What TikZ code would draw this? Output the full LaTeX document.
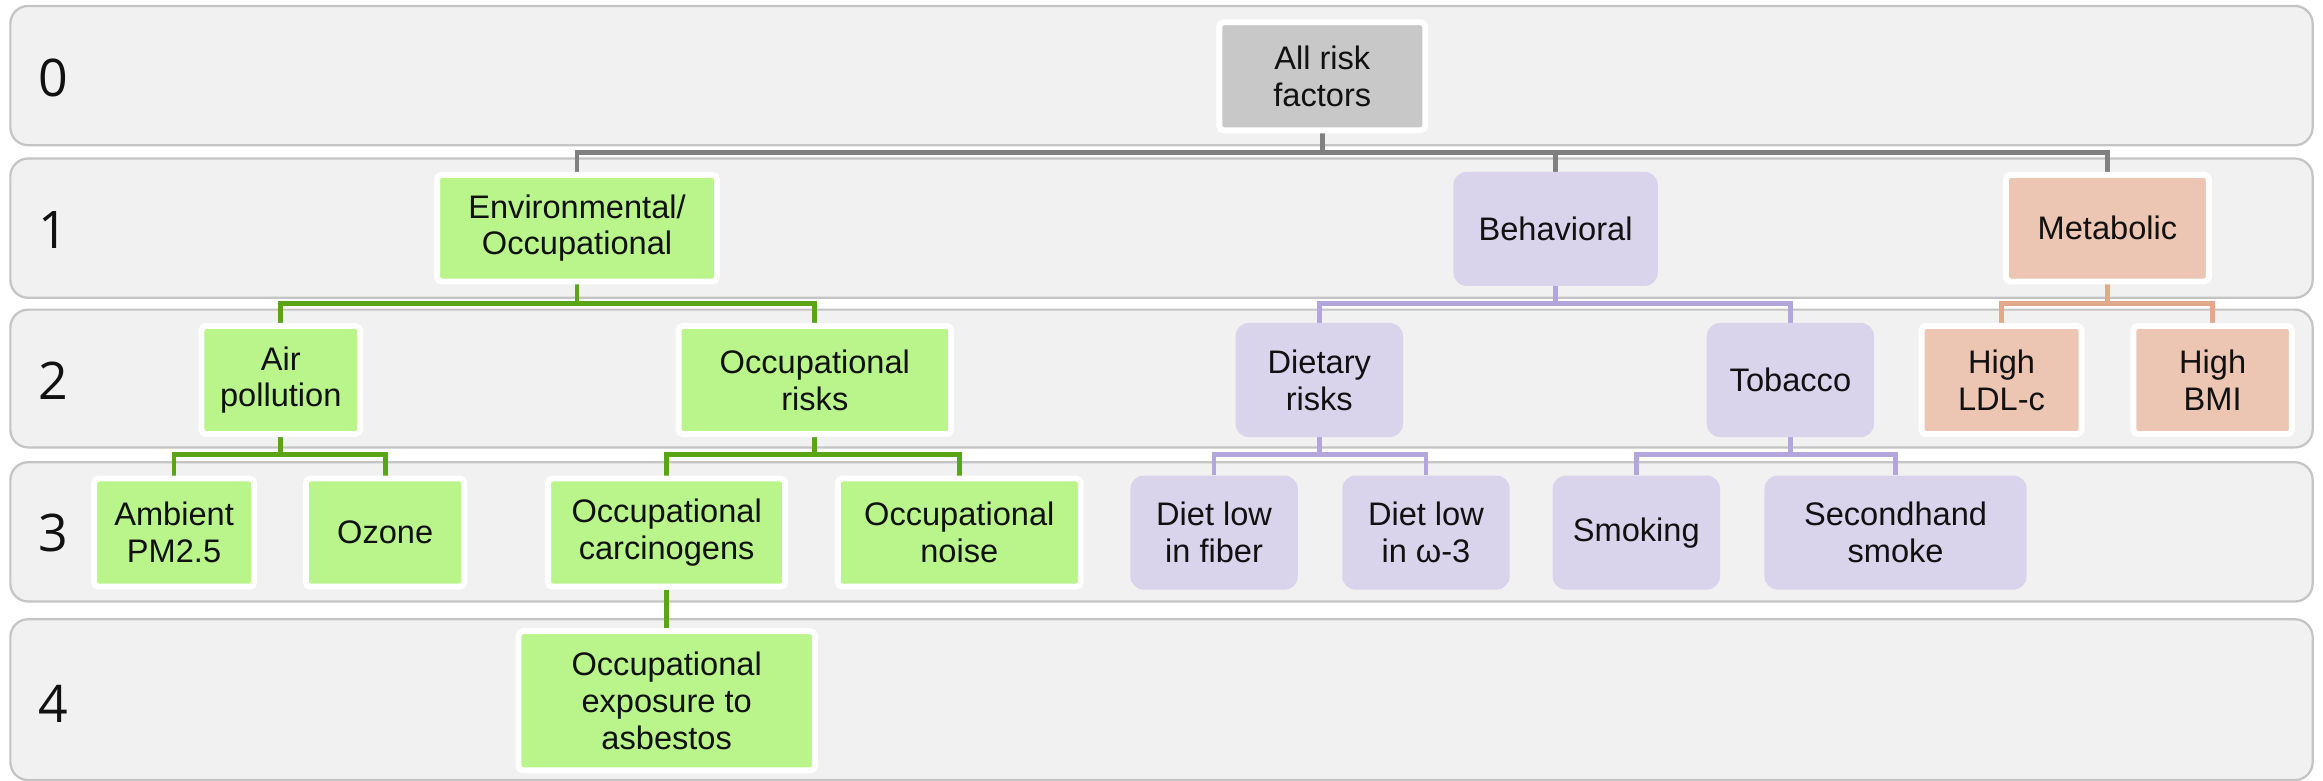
\documentclass[tikz,border=0pt]{standalone}
\usepackage{fontspec}
\setmainfont{Liberation Sans}
\newfontfamily\digitfont{Open Sans}
\pgfdeclarelayer{bands}
\pgfdeclarelayer{lines}
\pgfsetlayers{bands,lines,main}
\definecolor{bandfill}{HTML}{F1F1F1}
\definecolor{bandline}{HTML}{C4C4C4}
\definecolor{grayline}{HTML}{808080}
\definecolor{grayfill}{HTML}{C8C8C8}
\definecolor{gfill}{HTML}{B9F58B}
\definecolor{gline}{HTML}{5AA516}
\definecolor{pfill}{HTML}{D9D3EC}
\definecolor{pline}{HTML}{B3A6DD}
\definecolor{ofill}{HTML}{ECC5B3}
\definecolor{oline}{HTML}{E1A98A}
\definecolor{txt}{HTML}{111111}
\newcommand{\nodefont}{\fontsize{22}{24.8}\selectfont}
\tikzset{
  nd/.style={align=center, inner sep=0pt, text=txt, font=\nodefont},
  wb/.style={nd, draw=white, line width=4pt, rounded corners=3pt},
  grn/.style={wb, fill=gfill},
  gry/.style={wb, fill=grayfill},
  org/.style={wb, fill=ofill},
  prp/.style={nd, fill=pfill, rounded corners=9pt},
  band/.style={fill=bandfill, draw=bandline, line width=1.5pt, rounded corners=12pt},
  lvl/.style={anchor=west, inner sep=0pt, text=txt, font=\digitfont\fontsize{35}{35}\selectfont},
  conn/.style={line width=3.2pt},
}
\begin{document}
\begin{tikzpicture}[x=1pt,y=-1pt]
\useasboundingbox (0,0) rectangle (1568,527);
\begin{pgfonlayer}{bands}
\fill[white] (0,0) rectangle (1568,527);
\draw[band] (7,4) rectangle (1561,98);
\draw[band] (7,107) rectangle (1561,201);
\draw[band] (7,209) rectangle (1561,302);
\draw[band] (7,312) rectangle (1561,406);
\draw[band] (7,418) rectangle (1561,526.5);
\end{pgfonlayer}
% level labels
\node[lvl] (l0) at (26,52.5) {0};
\node[lvl] (l1) at (26,155.5) {1};
\node[lvl] (l2) at (26,257) {2};
\node[lvl] (l3) at (26,360) {3};
\node[lvl] (l4) at (26,475) {4};
% level 0
\node[gry, minimum width=139pt, minimum height=73pt] (allrisk) at (892.5,51.5) {All risk\\factors};
% level 1
\node[grn, minimum width=189pt, minimum height=72pt] (env) at (389.5,154) {Environmental/\\Occupational};
\node[prp, minimum width=138pt, minimum height=77pt] (behav) at (1050,154.5) {Behavioral};
\node[org, minimum width=137pt, minimum height=72pt] (metab) at (1422.5,154) {Metabolic};
% level 2
\node[grn, minimum width=107pt, minimum height=73pt] (air) at (189.5,256.5) {Air\\pollution};
\node[grn, minimum width=184pt, minimum height=73pt] (occrisk) at (550,256.5) {Occupational\\risks};
\node[prp, minimum width=113pt, minimum height=77pt] (diet) at (890.5,256.5) {Dietary\\risks};
\node[prp, minimum width=113pt, minimum height=77pt] (tob) at (1208.5,256.5) {Tobacco};
\node[org, minimum width=108pt, minimum height=73pt] (ldl) at (1351,256.5) {High\\LDL-c};
\node[org, minimum width=107pt, minimum height=73pt] (bmi) at (1493.5,256.5) {High\\BMI};
% level 3
\node[grn, minimum width=108pt, minimum height=73pt] (amb) at (117.5,359.5) {Ambient\\PM2.5};
\node[grn, minimum width=107pt, minimum height=73pt] (ozone) at (260,359.5) {Ozone};
\node[grn, minimum width=160pt, minimum height=73pt] (occcarc) at (450,359.5) {Occupational\\carcinogens};
\node[grn, minimum width=164pt, minimum height=73pt] (occnoise) at (647.5,359.5) {Occupational\\noise};
\node[prp, minimum width=113pt, minimum height=77pt] (fiber) at (819.5,359.5) {Diet low\\in fiber};
\node[prp, minimum width=113pt, minimum height=77pt] (omega) at (962.5,359.5) {Diet low\\in ω-3};
\node[prp, minimum width=113pt, minimum height=77pt] (smoke) at (1104.5,359.5) {Smoking};
\node[prp, minimum width=177pt, minimum height=77pt] (second) at (1279.5,359.5) {Secondhand\\smoke};
% level 4
\node[grn, minimum width=200pt, minimum height=94pt] (occexp) at (450,473) {Occupational\\exposure to\\asbestos};
% bus coordinates
\coordinate (bus0) at (0,103);
\coordinate (bus1) at (0,205);
\coordinate (bus2) at (0,307);
\begin{pgfonlayer}{lines}
\draw[conn, grayline] (allrisk.south) -- (allrisk.south |- bus0) -| (env.north);
\draw[conn, grayline] (allrisk.south) -- (allrisk.south |- bus0) -| (behav.north);
\draw[conn, grayline] (allrisk.south) -- (allrisk.south |- bus0) -| (metab.north);
\draw[conn, gline] (env.south) -- (env.south |- bus1) -| (air.north);
\draw[conn, gline] (env.south) -- (env.south |- bus1) -| (occrisk.north);
\draw[conn, pline] (behav.south) -- (behav.south |- bus1) -| (diet.north);
\draw[conn, pline] (behav.south) -- (behav.south |- bus1) -| (tob.north);
\draw[conn, oline] (metab.south) -- (metab.south |- bus1) -| (ldl.north);
\draw[conn, oline] (metab.south) -- (metab.south |- bus1) -| (bmi.north);
\draw[conn, gline] (air.south) -- (air.south |- bus2) -| (amb.north);
\draw[conn, gline] (air.south) -- (air.south |- bus2) -| (ozone.north);
\draw[conn, gline] (occrisk.south) -- (occrisk.south |- bus2) -| (occcarc.north);
\draw[conn, gline] (occrisk.south) -- (occrisk.south |- bus2) -| (occnoise.north);
\draw[conn, pline] (diet.south) -- (diet.south |- bus2) -| (fiber.north);
\draw[conn, pline] (diet.south) -- (diet.south |- bus2) -| (omega.north);
\draw[conn, pline] (tob.south) -- (tob.south |- bus2) -| (smoke.north);
\draw[conn, pline] (tob.south) -- (tob.south |- bus2) -| (second.north);
\draw[conn, gline] (occcarc.south) -- (occexp.north);
\end{pgfonlayer}
\end{tikzpicture}
\end{document}
